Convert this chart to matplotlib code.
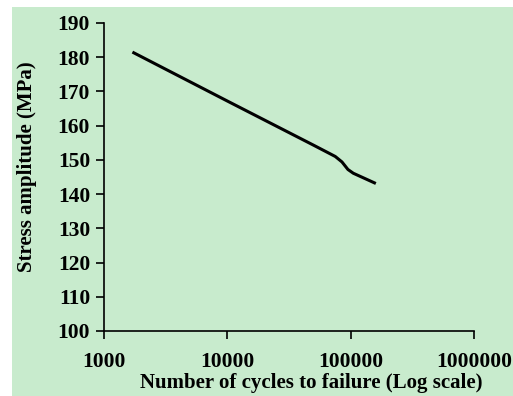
import numpy as np
import matplotlib
matplotlib.use("Agg")
import matplotlib.pyplot as plt
from matplotlib.patches import Rectangle

# S-N curve
cycles = [1700, 10000, 50000, 75000, 85000, 95000, 105000, 160000]
stress = [181.5, 167.2, 154.3, 151.0, 149.4, 147.2, 146.1, 143.1]

xticks = [1000, 10000, 100000, 1000000]
yticks = list(range(100, 191, 10))

plt.rcParams['font.family'] = ['Liberation Serif', 'DejaVu Serif']
plt.rcParams['font.weight'] = 'bold'

bg = '#c8ebcd'
fig = plt.figure(figsize=(5.13, 3.96), dpi=100)
fig.patch.set_facecolor('white')
fig.patches.append(Rectangle((12/513, 0), 1, 1 - 7/396, transform=fig.transFigure,
                             facecolor=bg, edgecolor='none', zorder=-10))

W, H = 513, 396
ax = fig.add_axes([104/W, 1 - 331/H, (474-104)/W, (331-23)/H])
ax.set_facecolor(bg)
ax.plot(cycles, stress, color='black', lw=2.2, solid_capstyle='butt', solid_joinstyle='round')

ax.set_xscale('log')
ax.set_xlim(1000, 1000000)
ax.set_ylim(100, 190)
ax.set_xticks(xticks)
ax.set_xticklabels([str(t) for t in xticks], fontweight='bold')
ax.xaxis.set_minor_locator(matplotlib.ticker.NullLocator())
ax.set_yticks(yticks)
ax.set_yticklabels([str(t) for t in yticks], fontweight='bold')

for s in ['top', 'right']:
    ax.spines[s].set_visible(False)
for s in ['left', 'bottom']:
    ax.spines[s].set_linewidth(1.2)
ax.tick_params(axis='both', which='major', length=6, width=1.2, labelsize=15.5, direction='out', pad=4)
ax.tick_params(axis='x', pad=9)

fig.text(311/W, 1 - 383/H, 'Number of cycles to failure (Log scale)', ha='center', va='center',
         fontsize=15, fontweight='bold')
fig.text(27/W, 1 - 167/H, 'Stress amplitude (MPa)', ha='center', va='center',
         rotation=90, fontsize=15, fontweight='bold')

fig.savefig('out.png', dpi=100, facecolor=fig.get_facecolor())
